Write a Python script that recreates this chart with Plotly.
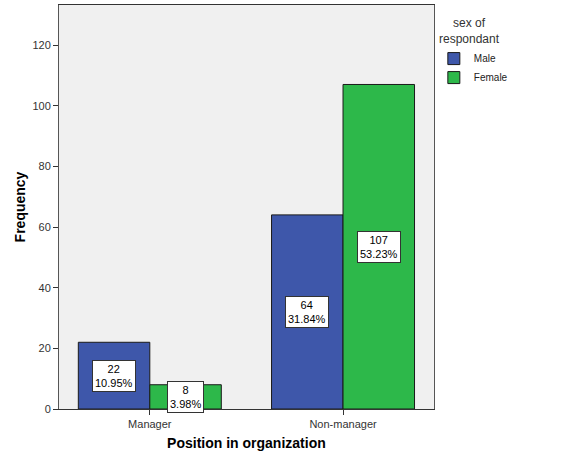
import plotly.graph_objects as go

positions = ["Manager", "Non-manager"]
sexes = ["Male", "Female"]
male_counts = [22, 64]
female_counts = [8, 107]
male_pcts = ["10.95%", "31.84%"]
female_pcts = ["3.98%", "53.23%"]

colors = {"Male": "#3E57AA", "Female": "#2DB84A"}

bargap = 0.26
bar_w = (1 - bargap) / 2

fig = go.Figure()
for sex, vals in zip(sexes, [male_counts, female_counts]):
    fig.add_trace(go.Bar(
        x=positions, y=vals, name=sex,
        marker=dict(color=colors[sex], line=dict(color="#1a1a1a", width=1)),
    ))

# value labels in white boxes, centred in each bar
for i, pos in enumerate(positions):
    for k, (vals, pcts) in enumerate([(male_counts, male_pcts), (female_counts, female_pcts)]):
        offset = (k - 0.5) * bar_w
        fig.add_annotation(
            x=i + offset, y=vals[i] / 2, xref="x", yref="y",
            text=f"{vals[i]}<br>{pcts[i]}", showarrow=False,
            font=dict(size=11, color="black", family="Liberation Sans, Arial"),
            bgcolor="white", bordercolor="#333333", borderwidth=1, borderpad=2,
        )

# legend title, centred like the SPSS one
fig.add_annotation(
    x=1.096, y=0.978, xref="paper", yref="paper", xanchor="center", yanchor="top",
    text="sex of<br>respondant", showarrow=False, align="center",
    font=dict(size=12, color="#333"),
)

fig.update_layout(
    width=580, height=464,
    barmode="group", bargap=bargap, bargroupgap=0,
    paper_bgcolor="white", plot_bgcolor="#F0F0F0",
    margin=dict(l=59, r=145, t=5, b=55),
    font=dict(family="Liberation Sans, Arial", size=11, color="#222"),
    legend=dict(
        xref="container", yref="container",
        x=0.748, xanchor="left", y=0.905, yanchor="top",
        font=dict(size=10, color="#222"), tracegroupgap=0, itemwidth=30,
        bgcolor="rgba(0,0,0,0)",
    ),
)

fig.update_xaxes(
    range=[-0.47, 1.47], showline=True, linecolor="#333", linewidth=1, mirror=True,
    ticks="outside", ticklen=5, tickcolor="#333", automargin=False,
    tickfont=dict(size=11, color="#333"),
    title=dict(text="<b>Position in organization</b>", font=dict(size=14, color="black"), standoff=8),
    showgrid=False,
)
fig.update_yaxes(
    range=[0, 133.2], showline=True, linecolor="#555", linewidth=1, mirror=True,
    ticks="outside", ticklen=5, tickcolor="#333", dtick=20, automargin=False,
    tickfont=dict(size=11, color="#333"),
    title=dict(text="<b>Frequency</b>", font=dict(size=14, color="black"), standoff=3),
    showgrid=False, zeroline=False,
)

# drop the page's default body margin so the figure sits at the window corner
fig.write_html("out.html", config={"displayModeBar": False},
               post_script="document.body.style.margin='0';")
